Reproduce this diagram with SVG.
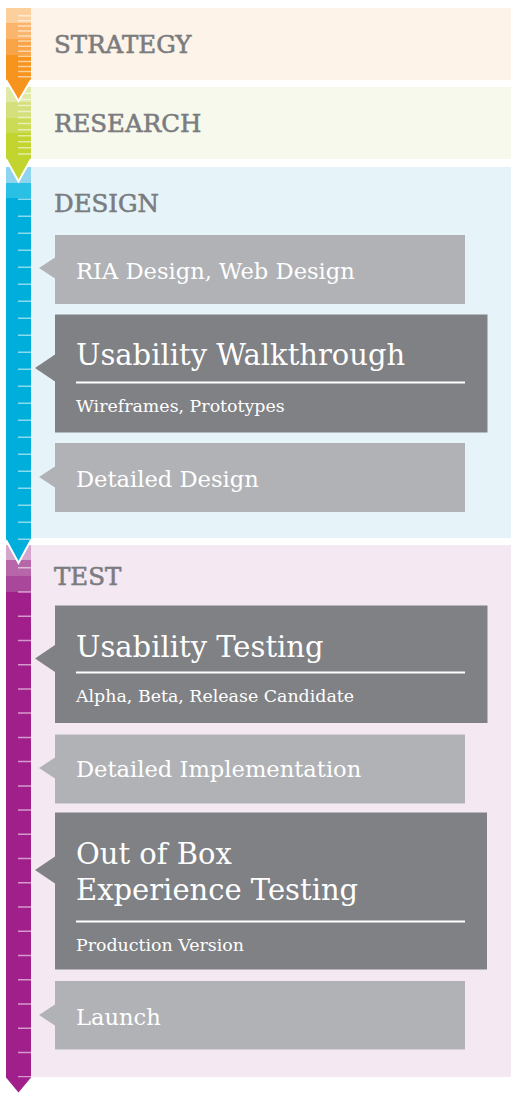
<svg xmlns="http://www.w3.org/2000/svg" width="511" height="1093" viewBox="0 0 511 1093">
<style>
.head{font-family:"DejaVu Serif",serif;font-size:24.5px;fill:#7b7c7f;stroke:#7b7c7f;stroke-width:.6px}
.lt{font-family:"DejaVu Serif",serif;font-size:22.6px;fill:#ffffff}
.tt{font-family:"DejaVu Serif",serif;font-size:29px;fill:#ffffff}
.st{font-family:"DejaVu Serif",serif;font-size:17.4px;fill:#ffffff}
.lbox{fill:#b1b2b5}
.dbox{fill:#808184}
.rule{stroke:#ffffff;stroke-width:2}
.tick{stroke:#ffffff;stroke-opacity:.55;stroke-width:1.5;fill:none}
.tip{stroke:#ffffff;stroke-width:2}
</style>
<rect width="511" height="1093" fill="#ffffff"/>

<g id="bands">
<rect x="31" y="8" width="480" height="72" fill="#fdf3e8"/>
<rect x="31" y="87" width="480" height="72" fill="#f8f9ed"/>
<rect x="31" y="167" width="480" height="371" fill="#e6f4fa"/>
<rect x="31" y="545" width="480" height="532" fill="#f4e8f3"/>
</g>

<g id="timeline">
<rect x="6" y="545" width="25" height="533" fill="#a01f8a"/>
<rect x="6" y="545" width="25" height="15" fill="#d4a5cd"/>
<rect x="6" y="560" width="25" height="16" fill="#b666a9"/>
<rect x="6" y="576" width="25" height="16" fill="#a9479b"/>
<path class="tick" d="M18 567.7H31M18 591.9H31M18 616.2H31M18 640.4H31M18 664.7H31M18 688.9H31M18 713.1H31M18 737.4H31M18 761.6H31M18 785.9H31M18 810.1H31M18 834.3H31M18 858.6H31M18 882.8H31M18 907.1H31M18 931.3H31M18 955.5H31M18 979.8H31M18 1004H31M18 1028.3H31M18 1052.5H31M18 1076.7H31"/>
<path d="M6 1077.5L18.5 1092.5L31 1077.5Z" fill="#a01f8a"/>

<rect x="6" y="167" width="25" height="373" fill="#00aedb"/>
<rect x="6" y="167" width="25" height="16" fill="#8fd4ef"/>
<rect x="6" y="183" width="25" height="15" fill="#2ac0e5"/>
<path class="tick" d="M18 199.3H31M18 216.3H31M18 233.3H31M18 250.3H31M18 267.3H31M18 284.3H31M18 301.3H31M18 318.3H31M18 335.3H31M18 352.3H31M18 369.3H31M18 386.3H31M18 403.3H31M18 420.3H31M18 437.3H31M18 454.3H31M18 471.3H31M18 488.3H31M18 505.3H31M18 522.3H31M18 539.3H31"/>
<path class="tip" d="M6 540L18.5 563L31 540" fill="#00aedb"/>

<rect x="6" y="87" width="25" height="72" fill="#c2d52f"/>
<rect x="6" y="87" width="25" height="15" fill="#e0e9a6"/>
<rect x="6" y="102" width="25" height="16" fill="#d5e07c"/>
<rect x="6" y="118" width="25" height="15" fill="#cbdb55"/>
<path class="tick" d="M18 93.3H31M18 99.4H31M18 105.4H31M18 111.5H31M18 117.5H31M18 123.6H31M18 129.7H31M18 135.7H31M18 141.8H31M18 147.8H31M18 153.9H31"/>
<path class="tip" d="M6 159L18.5 181.5L31 159" fill="#c2d52f"/>

<rect x="6" y="8" width="25" height="72" fill="#f7941d"/>
<rect x="6" y="8" width="25" height="15.5" fill="#fdcf9d"/>
<rect x="6" y="23.5" width="25" height="15.5" fill="#fbb56c"/>
<rect x="6" y="39" width="25" height="16" fill="#f9a446"/>
<path class="tick" d="M18 15.7H31M18 20.8H31M18 25.9H31M18 30.9H31M18 36H31M18 41.1H31M18 46.2H31M18 51.3H31M18 56.3H31M18 61.4H31M18 66.5H31M18 71.6H31M18 76.7H31"/>
<path class="tip" d="M6 80L18.5 101L31 80" fill="#f7941d"/>
</g>

<g id="strategy"><text class="head" x="54" y="53.3">STRATEGY</text></g>
<g id="research"><text class="head" x="54" y="132.3">RESEARCH</text></g>
<g id="design"><text class="head" x="54" y="212.3">DESIGN</text></g>
<g id="test"><text class="head" x="54" y="585">TEST</text></g>

<g id="ria-design">
<rect class="lbox" x="55" y="235" width="410" height="69"/>
<polygon class="lbox" points="55,257.5 39,268 55,278.5"/>
<text class="lt" x="76" y="279.3">RIA Design, Web Design</text>
</g>

<g id="usability-walkthrough">
<rect class="dbox" x="55" y="314.5" width="432.5" height="118"/>
<polygon class="dbox" points="55,354.5 35,368 55,381.5"/>
<text class="tt" x="76" y="365">Usability Walkthrough</text>
<line class="rule" x1="76" y1="382.5" x2="465" y2="382.5"/>
<text class="st" x="76" y="411.5">Wireframes, Prototypes</text>
</g>

<g id="detailed-design">
<rect class="lbox" x="55" y="443" width="410" height="69"/>
<polygon class="lbox" points="55,466.5 39,477 55,487.5"/>
<text class="lt" x="76" y="486.8">Detailed Design</text>
</g>

<g id="usability-testing">
<rect class="dbox" x="55" y="605.5" width="432.5" height="117.5"/>
<polygon class="dbox" points="55,645 35,658.5 55,672"/>
<text class="tt" x="76" y="656.5">Usability Testing</text>
<line class="rule" x1="76" y1="672.5" x2="465" y2="672.5"/>
<text class="st" x="76" y="701.7">Alpha, Beta, Release Candidate</text>
</g>

<g id="detailed-implementation">
<rect class="lbox" x="55" y="734.5" width="410" height="69"/>
<polygon class="lbox" points="55,757.5 39,768 55,778.5"/>
<text class="lt" x="76" y="776.7">Detailed Implementation</text>
</g>

<g id="out-of-box">
<rect class="dbox" x="55" y="812.5" width="432" height="157"/>
<polygon class="dbox" points="55,856.5 35,870 55,883.5"/>
<text class="tt" x="76" y="864.3">Out of Box</text>
<text class="tt" x="76" y="900">Experience Testing</text>
<line class="rule" x1="76" y1="921.5" x2="465" y2="921.5"/>
<text class="st" x="76" y="951">Production Version</text>
</g>

<g id="launch">
<rect class="lbox" x="55" y="981" width="410" height="68.5"/>
<polygon class="lbox" points="55,1004.5 39,1015 55,1025.5"/>
<text class="lt" x="76" y="1025">Launch</text>
</g>

<g id="connectors"></g>
</svg>
